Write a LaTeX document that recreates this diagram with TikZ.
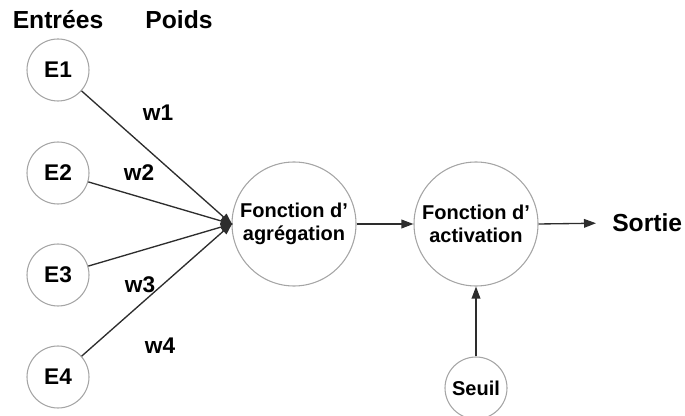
\documentclass[tikz,border=0pt]{standalone}
\usepackage{fontspec}
\setmainfont{Liberation Sans}
\usetikzlibrary{arrows.meta}
\definecolor{ring}{RGB}{165,165,165}
\definecolor{wire}{RGB}{45,45,45}

\begin{document}
\begin{tikzpicture}[x=0.75pt,y=0.75pt,yscale=-1,xscale=1,
  neuron/.style={circle,draw=ring,line width=0.8pt,minimum size=#1,inner sep=0pt,align=center},
  wire/.style={draw=wire,line width=1pt,-{Triangle[length=9pt,width=6.5pt]}},
  headtxt/.style={font=\bfseries\fontsize{18.5}{20}\selectfont},
  bigtxt/.style={font=\bfseries\fontsize{17}{19}\selectfont},
  midtxt/.style={font=\bfseries\fontsize{15}{17.5}\selectfont}]
\useasboundingbox (0,0) rectangle (685,416);

% Headers
\node [headtxt] (entrees) at (58,20) {Entrées};
\node [headtxt] (poids) at (179,20) {Poids};

% Inputs
\node [neuron=46.5pt,bigtxt] (e1) at (58,70) {E1};
\node [neuron=46.5pt,bigtxt] (e2) at (58,173) {E2};
\node [neuron=46.5pt,bigtxt] (e3) at (58,275) {E3};
\node [neuron=46.5pt,bigtxt] (e4) at (58,377) {E4};

% Aggregation and activation
\node [neuron=93pt,midtxt] (agg) at (294,224) {Fonction d’\\agrégation};
\node [neuron=93pt,midtxt] (act) at (476,224) {Fonction d’\\activation};
\node [neuron=46.5pt,midtxt] (seuil) at (476,388) {Seuil};
\node [anchor=west,inner sep=0pt,headtxt] (sortie) at (612,223) {Sortie};

% Weighted connections
\draw [wire,shorten >=-1pt] (e1) -- (agg.west);
\draw [wire,shorten >=-1pt] (e2) -- (agg.west);
\draw [wire,shorten >=-1pt] (e3) -- (agg.west);
\draw [wire,shorten >=-1pt] (e4) -- (agg.west);

\draw [wire] (agg) -- (act);
\draw [wire,shorten >=12pt] (act.east) -- (sortie.west);
\draw [wire] (seuil) -- (act);

% Weights
\node [bigtxt] (w1) at (158,113) {w1};
\node [bigtxt] (w2) at (139,173) {w2};
\node [bigtxt] (w3) at (140,285) {w3};
\node [bigtxt] (w4) at (160,346) {w4};

\end{tikzpicture}
\end{document}
